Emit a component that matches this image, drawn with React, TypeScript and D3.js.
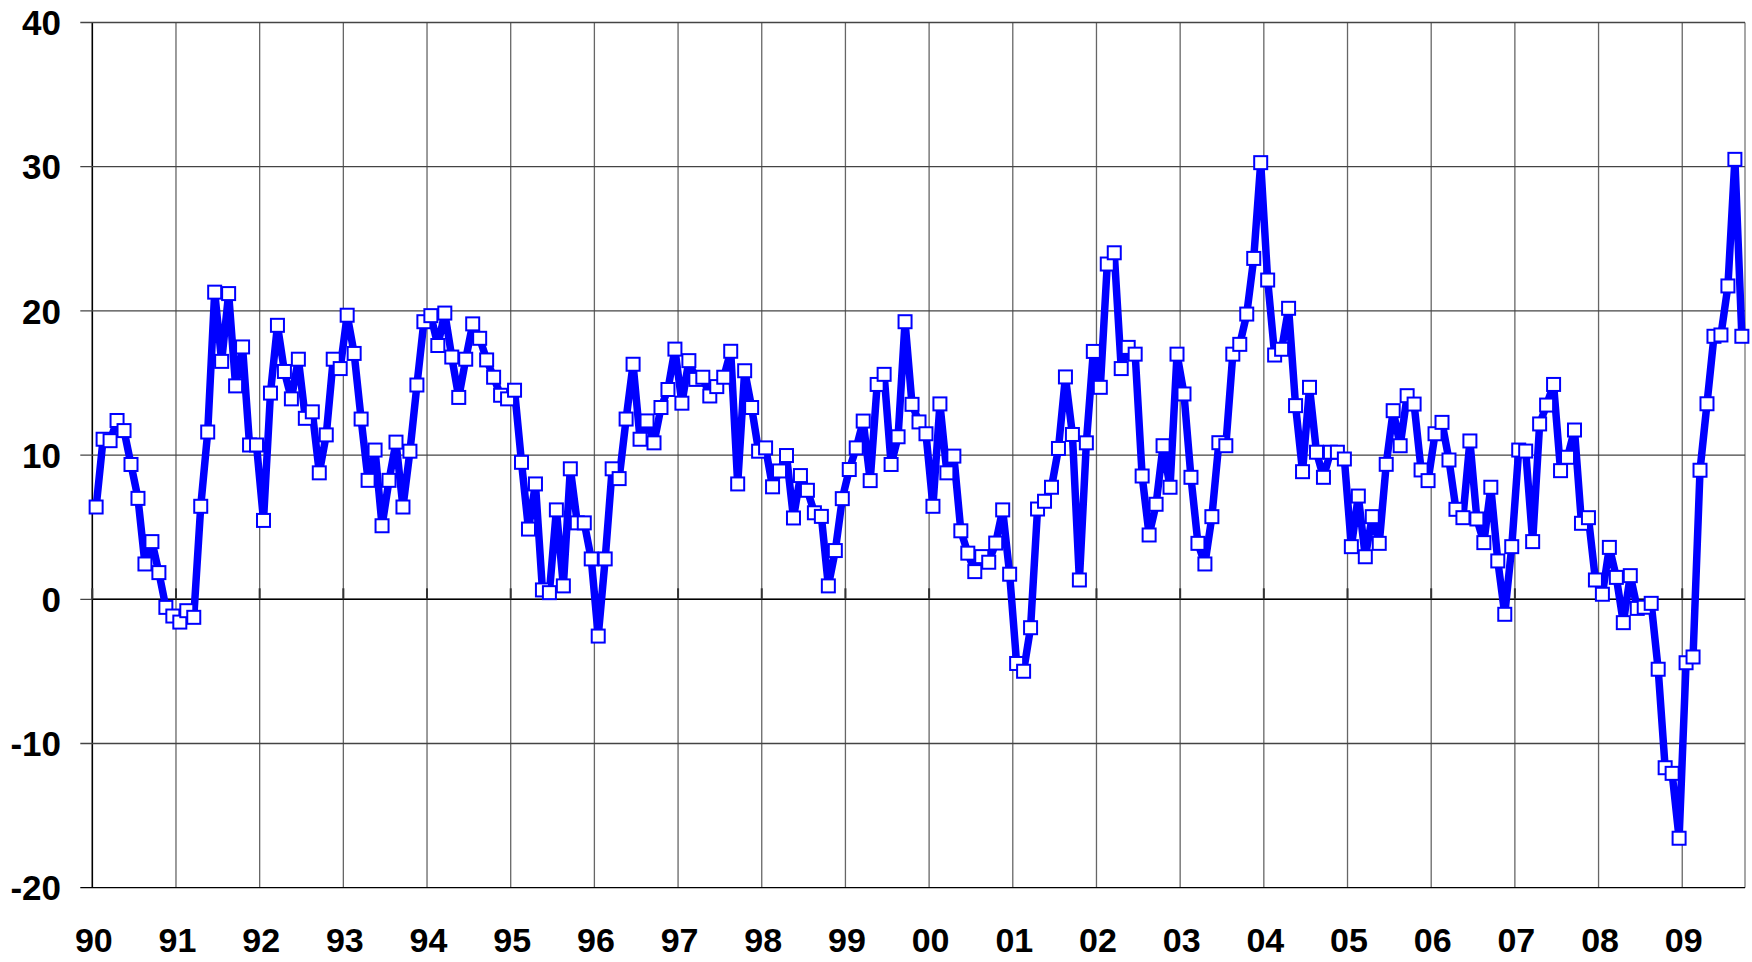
import React from 'react';
import * as d3 from 'd3';

// monthly values, one array per year (Jan..Dec)
const y1990 = [6.4, 11.1, 11.0, 12.4, 11.7, 9.35, 7.0, 2.45, 4.0, 1.85, -0.56, -1.16];
const y1991 = [-1.58, -0.79, -1.25, 6.45, 11.6, 21.3, 16.5, 21.2, 14.8, 17.5, 10.7, 10.7];
const y1992 = [5.47, 14.3, 19.0, 15.8, 13.9, 16.65, 12.55, 13.0, 8.77, 11.4, 16.65, 16.0];
const y1993 = [19.7, 17.05, 12.5, 8.25, 10.35, 5.1, 8.25, 10.9, 6.4, 10.27, 14.86, 19.25];
const y1994 = [19.67, 17.6, 19.85, 16.8, 14.0, 16.65, 19.1, 18.1, 16.6, 15.4, 14.15, 13.9];
const y1995 = [14.5, 9.5, 4.87, 8.0, 0.65, 0.46, 6.2, 0.93, 9.05, 5.3, 5.3, 2.8];
const y1996 = [-2.55, 2.8, 9.05, 8.37, 12.5, 16.3, 11.1, 12.37, 10.85, 13.3, 14.55, 17.35];
const y1997 = [13.6, 16.55, 15.25, 15.4, 14.1, 14.75, 15.4, 17.2, 8.0, 15.85, 13.3, 10.27];
const y1998 = [10.5, 7.8, 8.9, 9.97, 5.64, 8.58, 7.56, 6.0, 5.75, 0.93, 3.38, 6.98];
const y1999 = [9.0, 10.5, 12.36, 8.23, 14.9, 15.6, 9.35, 11.27, 19.25, 13.52, 12.3, 11.48];
const y2000 = [6.45, 13.55, 8.77, 9.93, 4.75, 3.2, 1.92, 2.96, 2.57, 3.9, 6.2, 1.74];
const y2001 = [-4.45, -4.99, -1.97, 6.26, 6.8, 7.77, 10.46, 15.42, 11.43, 1.34, 10.85, 17.19];
const y2002 = [14.7, 23.25, 24.03, 16.0, 17.47, 17.0, 8.55, 4.46, 6.59, 10.65, 7.77, 17.0];
const y2003 = [14.24, 8.46, 3.88, 2.45, 5.73, 10.86, 10.65, 17.0, 17.68, 19.78, 23.64, 30.28];
const y2004 = [22.14, 16.94, 17.34, 20.18, 13.43, 8.85, 14.7, 10.2, 8.46, 10.2, 10.2, 9.73];
const y2005 = [3.65, 7.16, 2.95, 5.73, 3.88, 9.36, 13.08, 10.65, 14.12, 13.54, 8.97, 8.23];
const y2006 = [11.48, 12.27, 9.66, 6.24, 5.66, 10.98, 5.57, 3.93, 7.77, 2.66, -1.04, 3.65];
const y2007 = [10.35, 10.28, 4.0, 12.16, 13.47, 14.9, 8.92, 9.85, 11.74, 5.27, 5.66, 1.34];
const y2008 = [0.35, 3.6, 1.52, -1.62, 1.64, -0.63, -0.55, -0.28, -4.85, -11.68, -12.07, -16.57];
const y2009 = [-4.4, -4.0, 8.95, 13.56, 18.24, 18.33, 21.73, 30.51, 18.24];

const series = [
  ...y1990, ...y1991, ...y1992, ...y1993, ...y1994, ...y1995, ...y1996,
  ...y1997, ...y1998, ...y1999, ...y2000, ...y2001, ...y2002, ...y2003,
  ...y2004, ...y2005, ...y2006, ...y2007, ...y2008, ...y2009,
];

const yearLabels = ['90', '91', '92', '93', '94', '95', '96', '97', '98', '99',
  '00', '01', '02', '03', '04', '05', '06', '07', '08', '09'];
const yTicks = [-20, -10, 0, 10, 20, 30, 40];

const W = 1752;
const H = 962;
const margin = { top: 22.5, right: 7, bottom: 74.3, left: 92.3 };

const App = () => {
  const x = d3.scaleLinear()
    .domain([0, 237])
    .range([margin.left, W - margin.right]);

  const y = d3.scaleLinear()
    .domain([-20, 40])
    .range([H - margin.bottom, margin.top]);

  const line = d3.line<number>()
    .x((d, i) => x(i + 0.55))
    .y(d => y(d));

  const font = '"Liberation Sans", Arial, sans-serif';

  return (
    <div style={{ position: 'absolute', left: 0, top: 0 }}>
      <svg width={W} height={H} style={{ display: 'block', background: '#fff' }}>
        {/* vertical year gridlines */}
        {yearLabels.map((lab, i) => (
          <line key={'v' + lab} x1={x(i * 12)} x2={x(i * 12)} y1={y(40)} y2={y(-20)}
            stroke={i === 0 ? '#000' : '#666'} strokeWidth={i === 0 ? 1.6 : 1.3} />
        ))}
        <line x1={x(237)} x2={x(237)} y1={y(40)} y2={y(-20)} stroke="#777" strokeWidth={1.3} />

        {/* horizontal gridlines with outside ticks */}
        {yTicks.map(t => (
          <line key={'h' + t} x1={margin.left - 12} x2={x(237)} y1={y(t)} y2={y(t)}
            stroke={t === -20 ? '#000' : '#444'} strokeWidth={1.3} />
        ))}

        {/* category axis at zero with inside ticks */}
        <line x1={x(0)} x2={x(237)} y1={y(0)} y2={y(0)} stroke="#000" strokeWidth={1.6} />
        {yearLabels.map((lab, i) => (
          <line key={'t' + lab} x1={x(i * 12)} x2={x(i * 12)} y1={y(0)} y2={y(0) - 11}
            stroke="#333" strokeWidth={2} />
        ))}

        {/* y labels */}
        {yTicks.map(t => (
          <text key={'yl' + t} x={61} y={y(t)} dy="0.36em" textAnchor="end"
            fontFamily={font} fontWeight="bold" fontSize={35} fill="#000">{t}</text>
        ))}

        {/* x labels */}
        {yearLabels.map((lab, i) => (
          <text key={'xl' + lab} x={x(i * 12) + 1.5} y={952} textAnchor="middle"
            fontFamily={font} fontWeight="bold" fontSize={34} fill="#000">{lab}</text>
        ))}

        {/* series */}
        <path d={line(series) || ''} fill="none" stroke="#0000ff" strokeWidth={7.5}
          strokeLinejoin="round" />
        {series.map((v, i) => (
          <rect key={'m' + i} x={x(i + 0.55) - 6.5} y={y(v) - 6.5} width={13} height={13}
            fill="#fff" stroke="#0000ff" strokeWidth={2} />
        ))}
      </svg>
    </div>
  );
};

export default App;
